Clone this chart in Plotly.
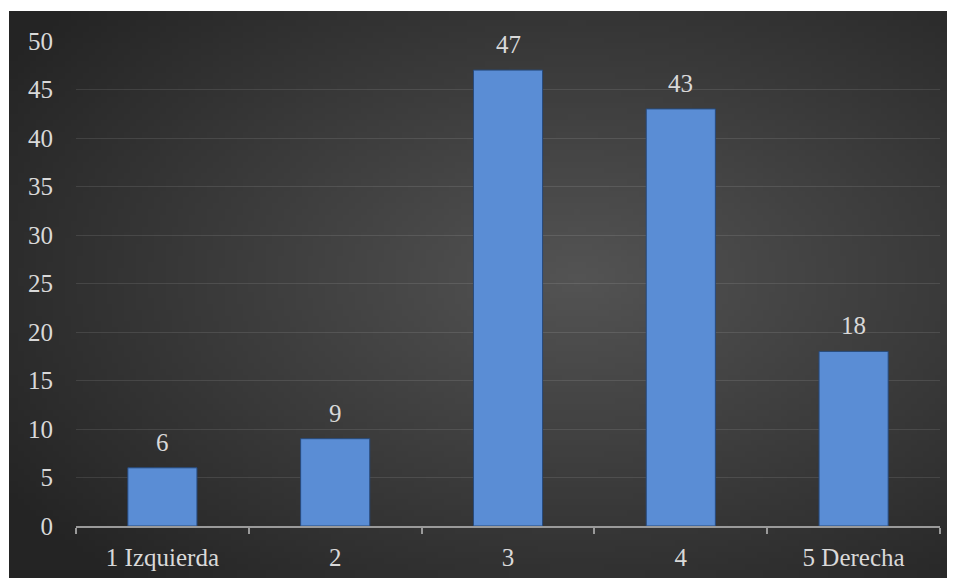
import base64
import struct
import zlib

import numpy as np
import plotly.graph_objects as go

# ---- data ----
categories = ["1 Izquierda", "2", "3", "4", "5 Derecha"]
values = [6, 9, 47, 43, 18]
y_ticks = [0, 5, 10, 15, 20, 25, 30, 35, 40, 45, 50]

# ---- styling ----
FIG_W, FIG_H = 955, 578
M_L, M_R, M_T, M_B = 68, 23, 33, 60
BG_X0, BG_Y0, BG_X1, BG_Y1 = 1, 3, 947, 570  # chart-area box in figure pixels
FONT = "Liberation Serif"
FS = 25
TEXT_COLOR = "#d9d9d9"


def radial_png(w=160, h=96):
    yy, xx = np.mgrid[0:h, 0:w]
    xs = (xx + 0.5) / w
    ys = (yy + 0.5) / h
    d = np.sqrt((xs - 0.6) ** 2 + (ys - 0.47) ** 2)
    v = np.clip(84 - 66 * d, 36, 90).astype(np.uint8)
    raw = b"".join(b"\x00" + row.tobytes() for row in v)

    def chunk(t, data):
        return struct.pack(">I", len(data)) + t + data + struct.pack(">I", zlib.crc32(t + data) & 0xFFFFFFFF)

    png = (b"\x89PNG\r\n\x1a\n"
           + chunk(b"IHDR", struct.pack(">IIBBBBB", w, h, 8, 0, 0, 0, 0))
           + chunk(b"IDAT", zlib.compress(raw))
           + chunk(b"IEND", b""))
    return "data:image/png;base64," + base64.b64encode(png).decode()


plot_w = FIG_W - M_L - M_R
plot_h = FIG_H - M_T - M_B

fig = go.Figure()
fig.add_trace(go.Bar(
    x=categories,
    y=values,
    marker=dict(color="#5a8dd5", line=dict(color="#274a7c", width=1)),
    hoverinfo="x+y",
))

for i, v in enumerate(values):
    fig.add_annotation(
        x=i, y=v, text=str(v), showarrow=False,
        xref="x", yref="y",
        yanchor="bottom", yshift=10,
        font=dict(family=FONT, size=FS, color=TEXT_COLOR),
    )

fig.add_layout_image(
    source=radial_png(),
    xref="paper", yref="paper",
    x=(BG_X0 - M_L) / plot_w,
    y=1 + (M_T - BG_Y0) / plot_h,
    sizex=(BG_X1 - BG_X0) / plot_w,
    sizey=(BG_Y1 - BG_Y0) / plot_h,
    xanchor="left", yanchor="top",
    sizing="stretch", layer="below",
)

fig.update_layout(
    width=FIG_W, height=FIG_H,
    template="none",
    paper_bgcolor="white",
    plot_bgcolor="rgba(0,0,0,0)",
    margin=dict(l=M_L, r=M_R, t=M_T, b=M_B),
    bargap=0.6,
    showlegend=False,
    font=dict(family=FONT, size=FS, color=TEXT_COLOR),
    xaxis=dict(
        type="category",
        range=[-0.5, 4.5],
        showline=True, linecolor="#9a9a9a", linewidth=1.5,
        ticks="outside", tickson="boundaries", ticklen=6,
        tickcolor="#9a9a9a", tickwidth=1.5,
        ticklabelstandoff=8,
        showgrid=False, zeroline=False,
        tickfont=dict(family=FONT, size=FS, color=TEXT_COLOR),
        automargin=False,
    ),
    yaxis=dict(
        range=[0, 50],
        tickvals=y_ticks,
        showgrid=True, gridcolor="rgba(255,255,255,0.1)", gridwidth=1,
        showline=False, zeroline=False, ticks="",
        ticklabelstandoff=22,
        tickfont=dict(family=FONT, size=FS, color=TEXT_COLOR),
        automargin=False,
    ),
)

fig.write_html("out.html")
